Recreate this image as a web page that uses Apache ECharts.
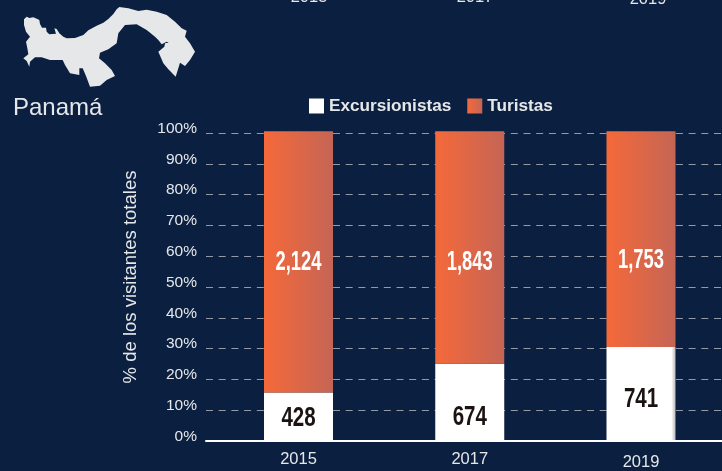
<!DOCTYPE html>
<html>
<head>
<meta charset="utf-8">
<style>html,body{margin:0;padding:0;background:#0b1f41;overflow:hidden}#c{width:722px;height:471px}</style>
<script src="https://cdn.jsdelivr.net/npm/echarts@6/dist/echarts.min.js"></script>
</head>
<body>
<div id="c"></div>
<script>
const years = ['2015', '2017', '2019'];
const excursionistasPct = [15.5, 24.8, 30.3];
const turistasPct = [85.1, 75.8, 70.3];
const excursionistasCounts = ['428', '674', '741'];
const turistasCounts = ['2,124', '1,843', '1,753'];
const yTicks = [0, 10, 20, 30, 40, 50, 60, 70, 80, 90, 100];
const excursionistasLabelLevel = [7.0, 7.4, 13.3];
const turistasLabelLevel = [57.7, 57.7, 58.4];
const mapOutline = [[72,58],[80,50],[88,54],[100,52],[112,57],[118,60],[120,72],[126,83],[138,83],[140,95],[148,103],[168,101],[163,85],[170,87],[178,100],[190,110],[200,115],[225,114],[250,105],[265,91],[290,77],[310,68],[325,57],[340,42],[350,28],[358,21],[385,25],[415,33],[440,29],[470,35],[500,45],[525,65],[545,85],[560,92],[555,110],[570,130],[585,155],[570,180],[555,198],[540,188],[535,205],[527,230],[505,208],[490,190],[475,155],[493,140],[495,130],[505,128],[535,147],[500,125],[485,133],[475,120],[465,110],[440,90],[410,73],[375,75],[355,100],[350,130],[325,148],[300,158],[297,175],[315,190],[335,210],[345,228],[320,240],[300,257],[270,260],[258,228],[248,205],[238,205],[238,225],[210,220],[195,195],[188,180],[150,180],[125,172],[105,172],[90,185],[88,200],[80,183],[70,175],[85,163],[82,145],[78,125],[90,110],[78,95],[72,75]];

const ink = '#e6e7e8';
const font = '"Liberation Sans", Arial, sans-serif';
const orange = new echarts.graphic.LinearGradient(0, 0, 1, 0, [
  { offset: 0, color: '#f5693a' }, { offset: 1, color: '#c56555' }
]);
const edgeWhite = new echarts.graphic.LinearGradient(0, 0, 1, 0, [
  { offset: 0, color: '#ffffff' }, { offset: 0.94, color: '#ffffff' }, { offset: 1, color: '#b9b9b9' }
]);

function labelSeries(name, levels, texts, fill, squeeze) {
  return {
    name: name, type: 'custom', xAxisIndex: 1, yAxisIndex: 1, z: 5, clip: false, silent: true,
    encode: { x: 0, y: 1 },
    renderItem: (params, api) => {
      const pt = api.coord([params.dataIndex, api.value(1)]);
      return {
        type: 'text', x: pt[0], y: pt[1], scaleX: squeeze,
        style: { text: texts[params.dataIndex], x: 0, y: 0, fill: fill, font: 'bold 27px ' + font,
          textAlign: 'center', textVerticalAlign: 'middle' }
      };
    },
    data: levels.map((v, i) => [years[i], v])
  };
}

const chart = echarts.init(document.getElementById('c'), null, { renderer: 'canvas' });
chart.setOption({
  backgroundColor: '#0b1f41',
  animation: false,
  legend: {
    left: 309, top: 97.5, padding: 0, itemWidth: 15, itemHeight: 15, itemGap: 16,
    icon: 'rect',
    selectedMode: false,
    textStyle: { color: ink, fontFamily: font, fontWeight: 'bold', fontSize: 17.2, padding: [0, 0, 2, 0] },
    data: ['Excursionistas', 'Turistas']
  },
  grid: [
    { left: 206, right: 0, top: 133, height: 308 },
    { left: 298.5, width: 342.5, top: 133, height: 308 }
  ],
  xAxis: [
    { gridIndex: 0, type: 'value', min: 0, max: 1, axisLabel: { show: false }, axisTick: { show: false }, splitLine: { show: false },
      axisLine: { show: true, lineStyle: { color: '#ffffff', width: 2 } } },
    { gridIndex: 1, type: 'category', boundaryGap: false,
      data: years.map((y, i) => i === 2 ? { value: y, textStyle: { padding: [3, 0, 0, 0] } } : y),
      axisLine: { show: false }, axisTick: { show: false },
      axisLabel: { color: ink, fontFamily: font, fontSize: 16.5, margin: 11 } }
  ],
  yAxis: [
    { gridIndex: 0, type: 'value', min: 0, max: 100, interval: 10,
      name: '% de los visitantes totales', nameLocation: 'middle', nameRotate: 90, nameGap: 66,
      nameTextStyle: { color: ink, fontFamily: font, fontSize: 18.5, padding: [0, 0, 0, 20] },
      axisLine: { show: false }, axisTick: { show: false },
      axisLabel: { color: ink, fontFamily: font, fontSize: 15.5, margin: 9, verticalAlign: 'bottom', lineHeight: 9,
        customValues: yTicks, formatter: v => v + '%' },
      splitLine: { show: true, lineStyle: { color: '#949aa8', width: 1, type: [7, 5.7] } } },
    { gridIndex: 1, type: 'value', min: 0, max: 100, show: false, splitLine: { show: false } }
  ],
  series: [
    { name: 'Excursionistas', type: 'bar', stack: 'total', xAxisIndex: 1, yAxisIndex: 1, barWidth: 69, clip: false,
      itemStyle: { color: '#ffffff' },
      data: excursionistasPct.map((v, i) => ({ value: v, itemStyle: i === 2 ? { color: edgeWhite } : undefined })) },
    { name: 'Turistas', type: 'bar', stack: 'total', xAxisIndex: 1, yAxisIndex: 1, barWidth: 69, clip: false,
      itemStyle: { color: orange },
      data: turistasPct },
    labelSeries('Excursionistas n', excursionistasLabelLevel, excursionistasCounts, '#1a1311', 0.76),
    labelSeries('Turistas n', turistasLabelLevel, turistasCounts, '#ffffff', 0.68)
  ],
  graphic: [
    { type: 'polygon', silent: true, x: 0, y: 0, scaleX: 1 / 3, scaleY: 1 / 3, shape: { points: mapOutline }, style: { fill: '#e6e7e8' } },
    { type: 'text', x: 13, y: 96, style: { text: 'Panamá', fill: ink, font: '24px ' + font } },
    { type: 'text', x: 309, y: 6, style: { text: '2015', fill: ink, font: '16.5px ' + font, textAlign: 'center', textVerticalAlign: 'bottom' } },
    { type: 'text', x: 475, y: 6, style: { text: '2017', fill: ink, font: '16.5px ' + font, textAlign: 'center', textVerticalAlign: 'bottom' } },
    { type: 'text', x: 648, y: 8, style: { text: '2019', fill: ink, font: '16.5px ' + font, textAlign: 'center', textVerticalAlign: 'bottom' } }
  ]
});
</script>
</body>
</html>
